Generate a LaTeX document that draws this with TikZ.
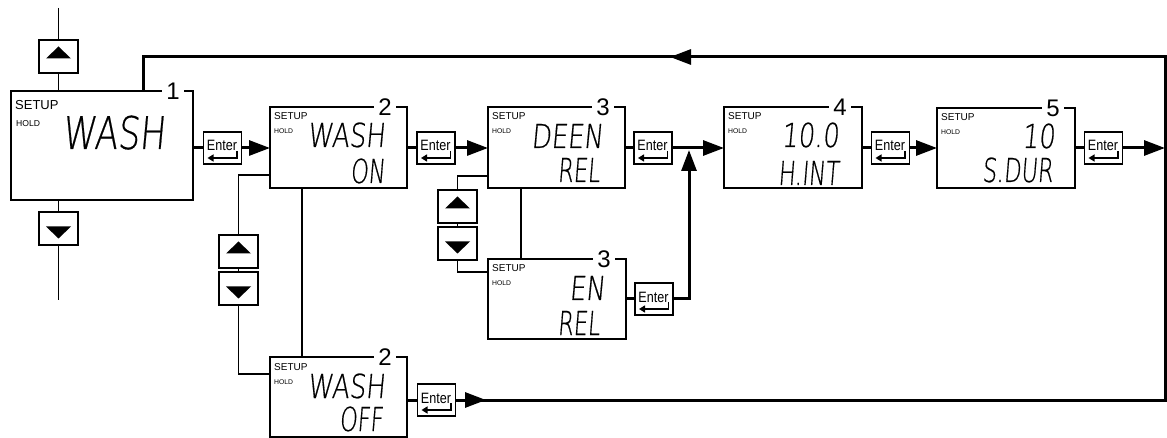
\documentclass[tikz,border=0pt]{standalone}
\usepackage{fontspec}
\usepackage{graphicx}
\setmainfont{Liberation Sans}
\IfFontExistsTF{DejaVuSans-ExtraLight.ttf}{%
  \newfontfamily\lcdfont{DejaVuSans-ExtraLight.ttf}[FakeSlant=0.12,FakeBold=0.6]
  \newcommand\lcdsa{0.78}\newcommand\lcdsb{0.68}\newcommand\lcdsbig{0.76}%
  \newcommand\lcddot{.}}{%
  \newfontfamily\lcdfont{DejaVu Sans Mono}[FakeSlant=0.12]
  \newcommand\lcdsa{0.98}\newcommand\lcdsb{0.78}\newcommand\lcdsbig{0.96}%
  \newcommand\lcddot{\hbox to 0.25em{\hss.\hss}}}
\usetikzlibrary{arrows.meta,calc}
\newcommand\lcdA[1]{\scalebox{\lcdsa}[1]{\lcdfont\fontsize{33}{33}\selectfont #1}}
\newcommand\lcdB[1]{\scalebox{\lcdsb}[1]{\lcdfont\fontsize{33}{33}\selectfont #1}}
\newcommand\lcdBig[1]{\scalebox{\lcdsbig}[1]{\lcdfont\fontsize{45}{45}\selectfont #1}}
\tikzset{
 thinln/.style={line width=1.2pt},
 thickln/.style={line width=3pt},
 thickarr/.style={line width=3pt,-{Triangle[length=21pt,width=15pt]}},
 lcdbox/.style={draw,line width=1.2pt,rectangle,anchor=north west,inner sep=0pt,outer sep=0pt},
 keybox/.style={draw,line width=1.2pt,rectangle,minimum width=39pt,minimum height=33pt,inner sep=0pt,outer sep=0pt},
 enterbox/.style={draw,line width=1.1pt,rectangle,minimum width=38pt,minimum height=32pt,inner sep=0pt,outer sep=0pt},
 numlab/.style={fill=white,inner xsep=4pt,inner ysep=0pt,font=\fontsize{24}{24}\selectfont},
 setuplab/.style={anchor=base west,inner sep=0pt,font=\fontsize{10}{10}\selectfont},
 holdlab/.style={anchor=base west,inner sep=0pt,font=\fontsize{6.8}{7}\selectfont},
 lcdtxt/.style={anchor=base east,inner sep=0pt},
 entertxt/.style={anchor=base,inner sep=0pt,font=\fontsize{15}{15}\selectfont}
}
\newcommand\enterkey[2]{%
 \node[enterbox] (#1) at (#2) {};
 \node[entertxt] (#1t) at ($(#1.center)+(-0.5,3)$) {\scalebox{0.84}[1]{Enter}};
 \draw[line width=1.3pt,-{Triangle[length=6pt,width=7pt]}] ($(#1.center)+(14.5,3)$) -- ($(#1.center)+(14.5,10)$) -- ($(#1.center)+(-15,10)$);
}
\newcommand\upkey[2]{%
 \node[keybox] (#1) at (#2) {};
 \fill ($(#1.center)+(0,-10)$) -- ($(#1.center)+(12.5,2)$) -- ($(#1.center)+(-12.5,2)$) -- cycle;
}
\newcommand\downkey[2]{%
 \node[keybox] (#1) at (#2) {};
 \fill ($(#1.center)+(0,10)$) -- ($(#1.center)+(12.5,-2)$) -- ($(#1.center)+(-12.5,-2)$) -- cycle;
}
\newcommand\lcdpanel[6]{%
 \node[lcdbox,minimum width=#4pt,minimum height=#5pt] (#1) at (#2,#3) {};
 \node[numlab] (#1n) at ($(#1.north east)+(-22,0)$) {#6};
 \node[setuplab] (#1s) at ($(#1.north west)+(4,13)$) {SETUP};
 \node[holdlab] (#1h) at ($(#1.north west)+(4,27)$) {HOLD};
}
\begin{document}
\begin{tikzpicture}[x=1pt,y=-1pt]
\useasboundingbox (0,0) rectangle (1167,438);

% box 1
\node[lcdbox,minimum width=182pt,minimum height=109pt] (box1) at (11,91) {};
\node[numlab] (box1n) at ($(box1.north east)+(-20,0)$) {1};
\node[anchor=base west,inner sep=0pt,font=\fontsize{13}{13}\selectfont] (box1s) at (15,109.5) {SETUP};
\node[anchor=base west,inner sep=0pt,font=\fontsize{8.6}{9}\selectfont] (box1h) at (16,127) {HOLD};
\node[lcdtxt] (b1a) at (165,149) {\lcdBig{WASH}};

% other panels
\lcdpanel{box2}{270}{107}{137}{81}{2}
\node[lcdtxt] (b2a) at (385,147) {\lcdA{WASH}};
\node[lcdtxt] (b2b) at (385,183) {\lcdB{ON}};

\lcdpanel{box3}{488}{107}{137}{81}{3}
\node[lcdtxt] (b3a) at (603,148) {\lcdA{DEEN}};
\node[lcdtxt] (b3b) at (600,182) {\lcdB{REL}};

\lcdpanel{box3b}{488}{259}{138}{80}{3}
\node[lcdtxt] (b3ca) at (605,300) {\lcdA{EN}};
\node[lcdtxt] (b3cb) at (600,335) {\lcdB{REL}};

\lcdpanel{box4}{724}{107}{138}{81}{4}
\node[lcdtxt] (b4a) at (839,147) {\lcdA{10\lcddot 0}};
\node[lcdtxt] (b4b) at (839,185) {\lcdB{H\lcddot INT}};

\lcdpanel{box5}{937}{108}{138}{80}{5}
\node[lcdtxt] (b5a) at (1055,148) {\lcdA{10}};
\node[lcdtxt] (b5b) at (1053,182) {\lcdB{S\lcddot DUR}};

\lcdpanel{box2b}{270}{357}{137}{80}{2}
\node[lcdtxt] (b2ca) at (385,398) {\lcdA{WASH}};
\node[lcdtxt] (b2cb) at (383,431) {\lcdB{OFF}};

% keys
\enterkey{E1}{222.5,148}
\enterkey{E2}{436,148}
\enterkey{E3}{653,148}
\enterkey{E4}{890.5,148}
\enterkey{E5}{1103.5,148}
\enterkey{E3b}{654,299}
\enterkey{E2b}{436.5,400}

\upkey{upL}{58.5,56.5}
\downkey{downL}{58.5,228.5}
\upkey{up2}{238.5,251.5}
\downkey{down2}{238.5,288.5}
\upkey{up3}{457.5,206.5}
\downkey{down3}{457.5,243.5}

% coordinates
\coordinate (TL) at (143,57);
\coordinate (TR) at (1165,57);
\coordinate (BR) at (1165,400);
\coordinate (J) at (689,148);
\coordinate (TA) at (670,57);
\coordinate (BA) at (486,400);
\coordinate (Ltop) at (58.5,8);
\coordinate (Lbot) at (58.5,300);

% thick loop
\draw[thickln] (box1.north -| TL) -- (TL) -- (TR) -- (BR) -- (BR -| E2b.east);
\draw[thickarr] (TR) -- (TA);
\draw[thickarr] (E2b.east) -- (BA);

% main row
\draw[thickln] (box1.east |- E1) -- (E1.west);
\draw[thickarr] (E1.east) -- (E1.east -| box2.west);
\draw[thickln] (box2.east |- E2) -- (E2.west);
\draw[thickarr] (E2.east) -- (E2.east -| box3.west);
\draw[thickln] (box3.east |- E3) -- (E3.west);
\draw[thickln] (E3.east) -- (J);
\draw[thickarr] (J) -- (J -| box4.west);
\draw[thickln] (box3b.east |- E3b) -- (E3b.west);
\draw[thickarr] (E3b.east) -| ($(J)+(0,2)$);
\draw[thickln] (box4.east |- E4) -- (E4.west);
\draw[thickarr] (E4.east) -- (E4.east -| box5.west);
\draw[thickln] (box5.east |- E5) -- (E5.west);
\draw[thickarr] (E5.east) -- (E5.east -| TR);
\draw[thickln] (box2b.east |- E2b) -- (E2b.west);

% thin connectors
\draw[thinln] (Ltop) -- (upL.north);
\draw[thinln] (upL.south) -- (upL.south |- box1.north);
\draw[thinln] (downL.north |- box1.south) -- (downL.north);
\draw[thinln] (downL.south) -- (Lbot);

\draw[thinln] ($(box2.south west)+(0,-13)$) -| (up2.north);
\draw[thinln] (up2.south) -- (down2.north);
\draw[thinln] (down2.south) |- ($(box2b.north west)+(0,17)$);
\draw[thinln] ($(box2.south west)+(32,0)$) -- ($(box2b.north west)+(32,0)$);

\draw[thinln] ($(box3.south west)+(0,-12)$) -| (up3.north);
\draw[thinln] (up3.south) -- (down3.north);
\draw[thinln] (down3.south) |- ($(box3b.north west)+(0,13)$);
\draw[thinln] ($(box3.south west)+(33,0)$) -- ($(box3b.north west)+(33,0)$);
\end{tikzpicture}
\end{document}
